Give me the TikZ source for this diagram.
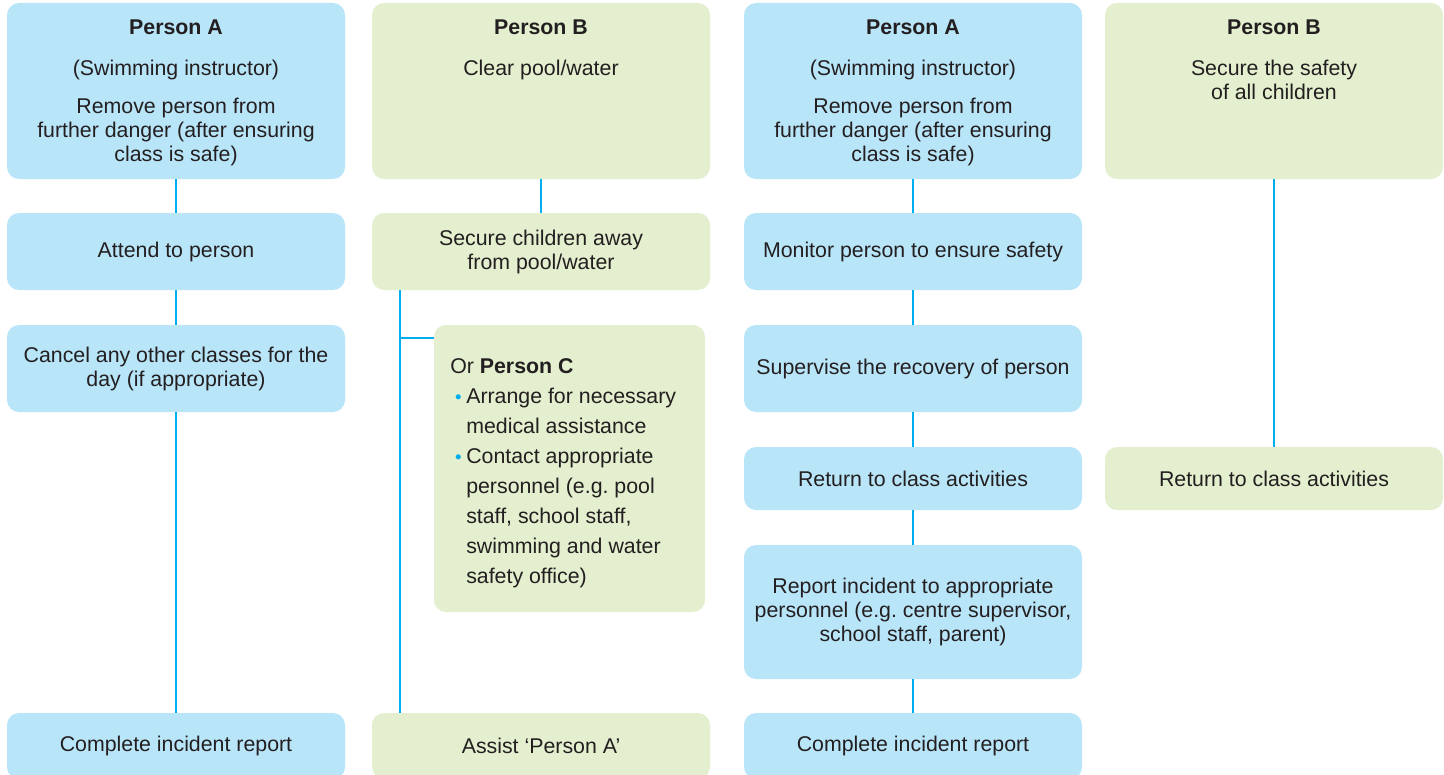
\documentclass[tikz,border=0pt]{standalone}
\usepackage{fontspec}
\setmainfont{Liberation Sans}
\usepackage{xcolor}
\usepackage{tikz}

\definecolor{boxblue}{RGB}{185,229,249}
\definecolor{boxgreen}{RGB}{227,239,206}
\definecolor{linkblue}{RGB}{0,174,239}
\definecolor{inktext}{RGB}{35,31,32}

\newcommand{\dotmark}{\makebox[12pt][c]{\textcolor{linkblue}{\fontsize{14}{14}\selectfont\textbullet}}}
\newcommand{\hangpad}{\hspace*{12pt}}

\tikzset{
  stage/.style={rounded corners=9pt, minimum width=253.5pt, inner sep=0pt, align=center, text=inktext},
  stageA/.style={stage, fill=boxblue},
  stageB/.style={stage, fill=boxgreen},
  headtext/.style={anchor=north, align=center, inner sep=0pt, text=inktext},
  flow/.style={draw=linkblue, line width=1.5pt},
}

\begin{document}
\frenchspacing
\begin{tikzpicture}[x=0.75pt,y=0.75pt,yscale=-1,xscale=1,font=\fontsize{16}{18}\selectfont]
\useasboundingbox (0,0) rectangle (1444,774);
\clip (0,0) rectangle (1444,774);

% Person A (first column)
\node[stageA, minimum height=132pt] (pa1) at (176,91) {};
\node[headtext] (pa1t) at (176,19.5) {\textbf{Person A}\\[12.5pt](Swimming instructor)\\[10.5pt]Remove person from\\further danger (after ensuring\\class is safe)};
\node[stageA, minimum height=57.75pt] (pa2) at (176,251.5) {\raisebox{-1.5pt}{Attend to person}};
\node[stageA, minimum height=65.25pt] (pa3) at (176,368.5) {Cancel any other classes for the\\day (if appropriate)};
\node[stageA, minimum height=49.5pt] (pa4) at (176,746) {Complete incident report};

% Person B (second column)
\node[stageB, minimum height=132pt] (pb1) at (541,91) {};
\node[headtext] (pb1t) at (541,19.5) {\textbf{Person B}\\[12.5pt]Clear pool/water};
\node[stageB, minimum height=57.75pt] (pb2) at (541,251.5) {Secure children away\\from pool/water};
\node[stageB, minimum height=215.25pt, minimum width=203.25pt] (pc) at (569.5,468.5) {};
\node[anchor=west, align=left, inner sep=0pt, text=inktext, font=\fontsize{16}{22.5}\selectfont] (pct) at (450,473)
  {Or \textbf{Person C}\\
   \dotmark Arrange for necessary\\
   \hangpad medical assistance\\
   \dotmark Contact appropriate\\
   \hangpad personnel (e.g. pool\\
   \hangpad staff, school staff,\\
   \hangpad swimming and water\\
   \hangpad safety office)};
\node[stageB, minimum height=49.5pt] (pb3) at (541,746) {Assist `Person A'};

% Person A (third column)
\node[stageA, minimum height=132pt] (qa1) at (913,91) {};
\node[headtext] (qa1t) at (913,19.5) {\textbf{Person A}\\[12.5pt](Swimming instructor)\\[10.5pt]Remove person from\\further danger (after ensuring\\class is safe)};
\node[stageA, minimum height=57.75pt] (qa2) at (913,251.5) {\raisebox{-1.5pt}{Monitor person to ensure safety}};
\node[stageA, minimum height=65.25pt] (qa3) at (913,368.5) {\raisebox{-1.5pt}{Supervise the recovery of person}};
\node[stageA, minimum height=47.25pt] (qa4) at (913,478.5) {Return to class activities};
\node[stageA, minimum height=100.5pt] (qa5) at (913,612) {Report incident to appropriate\\personnel (e.g. centre supervisor,\\school staff, parent)};
\node[stageA, minimum height=49.5pt] (qa6) at (913,746) {Complete incident report};

% Person B (fourth column)
\node[stageB, minimum height=132pt] (qb1) at (1274,91) {};
\node[headtext] (qb1t) at (1274,19.5) {\textbf{Person B}\\[12.5pt]Secure the safety\\of all children};
\node[stageB, minimum height=47.25pt] (qb2) at (1274,478.5) {Return to class activities};

% connectors
\draw[flow] (pa1) -- (pa2);
\draw[flow] (pa2) -- (pa3);
\draw[flow] (pa3) -- (pa4);
\draw[flow] (pb1) -- (pb2);
\coordinate (fork) at (400,338);
\draw[flow] (pb2.south -| fork) -- (pb3.north -| fork);
\draw[flow] (fork) -- (pc.west |- fork);
\draw[flow] (qa1) -- (qa2);
\draw[flow] (qa2) -- (qa3);
\draw[flow] (qa3) -- (qa4);
\draw[flow] (qa4) -- (qa5);
\draw[flow] (qa5) -- (qa6);
\draw[flow] (qb1) -- (qb2);

\end{tikzpicture}
\end{document}
